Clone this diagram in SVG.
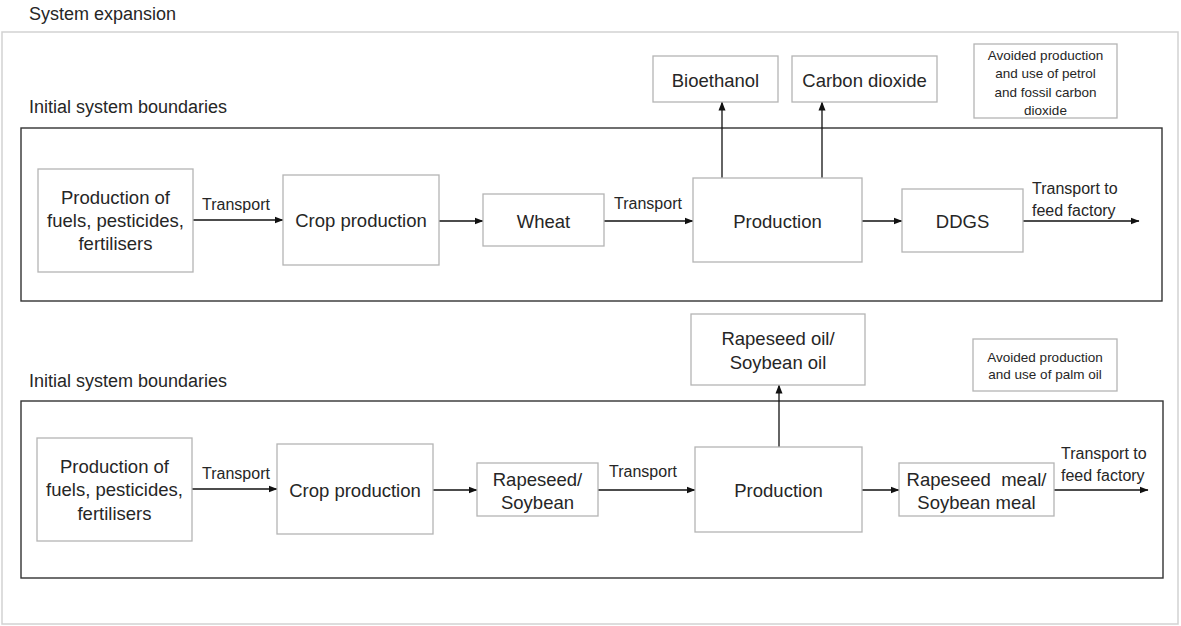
<svg xmlns="http://www.w3.org/2000/svg" width="1181" height="626" viewBox="0 0 1181 626">
<defs>
<marker id="ah" markerWidth="9" markerHeight="8" refX="8.5" refY="4" orient="auto" markerUnits="userSpaceOnUse">
<path d="M0,0.5 L9,4 L0,7.5 Z" fill="#111"/>
</marker>
<style>
.node{fill:#fff;stroke:#b4b4b4;stroke-width:1.3}
.bound{fill:none;stroke:#333;stroke-width:1.4}
.outer{fill:none;stroke:#d2d2d2;stroke-width:1.5}
text{font-family:"Liberation Sans",Arial,sans-serif;fill:#262626}
.t{font-size:18.5px;text-anchor:middle;dominant-baseline:central}
.title{font-size:18px}
.lbl{font-size:16px}
.sm{font-size:13.5px;text-anchor:middle;dominant-baseline:central}
.c{stroke:#111;stroke-width:1.3;fill:none;marker-end:url(#ah)}
</style>
</defs>
<rect width="1181" height="626" fill="#fff"/>
<g id="frames">
<text class="title" x="29" y="20">System expansion</text>
<rect class="outer" x="2" y="32" width="1176" height="592"/>
<text class="title" x="29" y="113">Initial system boundaries</text>
<rect class="bound" x="21" y="128" width="1141" height="173"/>
<text class="title" x="29" y="387">Initial system boundaries</text>
<rect class="bound" x="21" y="401" width="1142" height="177"/>
</g>
<g id="connectors">
<line class="c" x1="193" y1="220" x2="283" y2="220"/>
<line class="c" x1="439" y1="221" x2="483" y2="221"/>
<line class="c" x1="604" y1="221" x2="693" y2="221"/>
<line class="c" x1="722" y1="178" x2="722" y2="102"/>
<line class="c" x1="822" y1="178" x2="822" y2="102"/>
<line class="c" x1="862" y1="221" x2="902" y2="221"/>
<line class="c" x1="1023" y1="221" x2="1139" y2="221"/>
<line class="c" x1="192" y1="489" x2="277" y2="489"/>
<line class="c" x1="433" y1="490" x2="477" y2="490"/>
<line class="c" x1="598" y1="490" x2="695" y2="490"/>
<line class="c" x1="779" y1="447" x2="779" y2="385"/>
<line class="c" x1="862" y1="490" x2="899" y2="490"/>
<line class="c" x1="1054" y1="490" x2="1148" y2="490"/>
<text class="lbl" x="236" y="210" text-anchor="middle">Transport</text>
<text class="lbl" x="648" y="209" text-anchor="middle">Transport</text>
<text class="lbl" x="1032" y="194">Transport to</text>
<text class="lbl" x="1032" y="216">feed factory</text>
<text class="lbl" x="236" y="479" text-anchor="middle">Transport</text>
<text class="lbl" x="643" y="477" text-anchor="middle">Transport</text>
<text class="lbl" x="1061" y="459">Transport to</text>
<text class="lbl" x="1061" y="481">feed factory</text>
</g>
<g id="n-fuels1">
<rect class="node" x="38" y="169" width="155" height="103"/>
<text class="t" x="115.5" y="197">Production of</text>
<text class="t" x="115.5" y="220">fuels, pesticides,</text>
<text class="t" x="115.5" y="243">fertilisers</text>
</g>
<g id="n-crop1">
<rect class="node" x="283" y="175" width="156" height="90"/>
<text class="t" x="361" y="220">Crop production</text>
</g>
<g id="n-wheat">
<rect class="node" x="483" y="194" width="121" height="52"/>
<text class="t" x="543.5" y="221">Wheat</text>
</g>
<g id="n-prod1">
<rect class="node" x="693" y="178" width="169" height="84"/>
<text class="t" x="777.5" y="221">Production</text>
</g>
<g id="n-bioethanol">
<rect class="node" x="653" y="56" width="125" height="46"/>
<text class="t" x="715.5" y="80">Bioethanol</text>
</g>
<g id="n-co2">
<rect class="node" x="792" y="56" width="145" height="46"/>
<text class="t" x="864.5" y="80">Carbon dioxide</text>
</g>
<g id="n-ddgs">
<rect class="node" x="902" y="189" width="121" height="63"/>
<text class="t" x="962.5" y="221">DDGS</text>
</g>
<g id="n-avoided1">
<rect class="node" x="974" y="44" width="143" height="74"/>
<text class="sm" x="1045.5" y="55">Avoided production</text>
<text class="sm" x="1045.5" y="73.5">and use of petrol</text>
<text class="sm" x="1045.5" y="92">and fossil carbon</text>
<text class="sm" x="1045.5" y="110.5">dioxide</text>
</g>
<g id="n-fuels2">
<rect class="node" x="37" y="438" width="155" height="103"/>
<text class="t" x="114.5" y="466">Production of</text>
<text class="t" x="114.5" y="489.5">fuels, pesticides,</text>
<text class="t" x="114.5" y="513">fertilisers</text>
</g>
<g id="n-crop2">
<rect class="node" x="277" y="444" width="156" height="90"/>
<text class="t" x="355" y="490">Crop production</text>
</g>
<g id="n-rapeseed">
<rect class="node" x="477" y="463" width="121" height="53"/>
<text class="t" x="537.5" y="479">Rapeseed/</text>
<text class="t" x="537.5" y="502">Soybean</text>
</g>
<g id="n-prod2">
<rect class="node" x="695" y="447" width="167" height="85"/>
<text class="t" x="778.5" y="490">Production</text>
</g>
<g id="n-oil">
<rect class="node" x="691" y="314" width="174" height="71"/>
<text class="t" x="778" y="338">Rapeseed oil/</text>
<text class="t" x="778" y="362">Soybean oil</text>
</g>
<g id="n-meal">
<rect class="node" x="899" y="463" width="155" height="53"/>
<text class="t" x="976.5" y="479">Rapeseed&#160; meal/</text>
<text class="t" x="976.5" y="502">Soybean meal</text>
</g>
<g id="n-avoided2">
<rect class="node" x="973" y="339" width="144" height="52"/>
<text class="sm" x="1045" y="357">Avoided production</text>
<text class="sm" x="1045" y="374">and use of palm oil</text>
</g>
</svg>
